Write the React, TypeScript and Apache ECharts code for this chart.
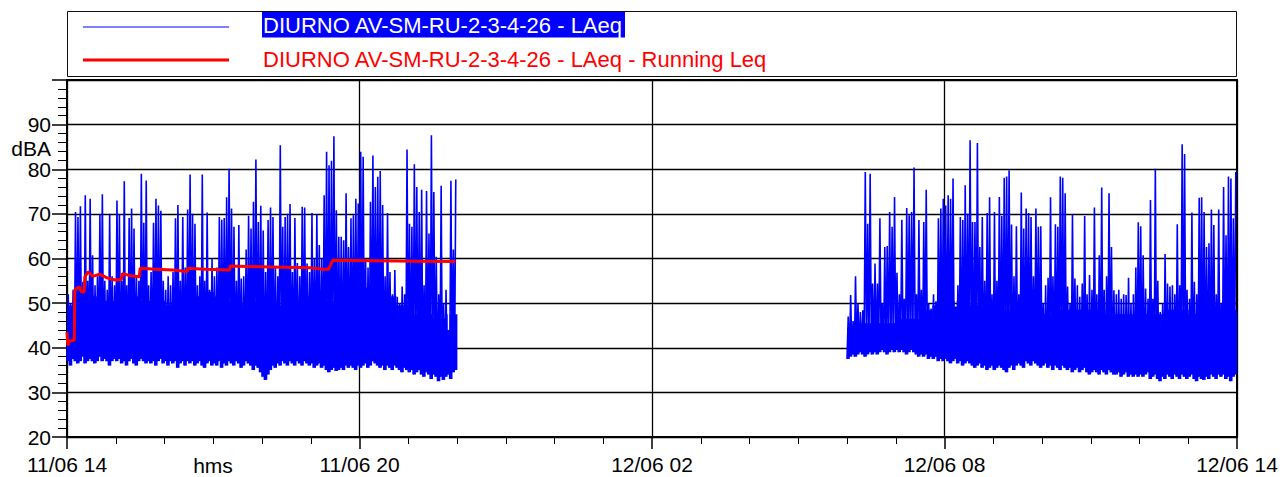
import React, { useEffect, useRef } from "react";
import * as echarts from "echarts";

// X axis: minutes elapsed since 11/06 14:00
const xTickLabels = ["11/06 14", "11/06 20", "12/06 02", "12/06 08", "12/06 14"];
const xAxisName = "hms";
const yAxisName = "dBA";
const seriesName = "DIURNO AV-SM-RU-2-3-4-26 - LAeq";
const runningName = "DIURNO AV-SM-RU-2-3-4-26 - LAeq - Running Leq";

// Blue series: min / max of LAeq in 3-minute windows
const windowMinutes = 3;
const seg1StartMin = 0; // 11/06 14:00
const seg2StartMin = 960; // 12/06 06:00

const seg1Hi = [
  52, 50, 53, 70.4, 69.3, 71.7, 54.8, 74.2, 55, 73.4,
  60.7, 54, 56, 69.9, 74.4, 55, 53, 70, 56, 54,
  73, 69.9, 55, 77.3, 54, 69.1, 71.2, 66.7, 56, 55,
  79, 68, 77.5, 54, 57, 68, 73.4, 71.9, 70.7, 55,
  53, 56, 54, 57, 69, 72, 55, 69.3, 58, 71,
  78.8, 70, 67.8, 54, 56, 78.8, 55, 70.3, 53, 60,
  56, 58, 69.3, 68.7, 69.1, 73.7, 80.1, 71.2, 67.1, 55,
  67.5, 55.5, 56, 62, 69.6, 66.7, 72.7, 82.2, 68.2, 71.8,
  66.3, 57, 68.6, 71.4, 69.3, 58, 56, 85.4, 67.1, 69.3,
  70, 72.2, 57, 69.1, 59, 56, 71.6, 71.4, 58.9, 57,
  70.2, 60, 69.9, 63, 60, 74.2, 83.9, 80.9, 81.9, 87.4,
  70.8, 64.9, 64.9, 64.1, 74.6, 62.6, 69, 69.7, 73.4, 72.3,
  83.9, 82.8, 60, 58, 72.7, 83.1, 76, 78.3, 79.6, 72,
  56, 70.2, 57, 52, 57.4, 51.4, 50, 53.7, 52, 84.4,
  67.8, 67.1, 81.1, 76, 70.4, 75.4, 54, 75.1, 65.6, 87.6,
  74.9, 60.4, 52, 76.3, 50, 53, 44, 77.4, 62, 77.7,
];
const seg1Lo = [
  37, 36, 37.5, 37, 36.5, 37, 38, 36.5, 37, 37.5,
  37, 36.5, 37, 38, 37, 37.5, 37, 36, 37, 37.5,
  37, 37.5, 36.5, 37, 36, 37, 37.5, 36.5, 36, 37,
  37.5, 37, 36.5, 37, 36.5, 37, 36, 37, 37.5, 36.5,
  37, 36, 37, 36.5, 37, 35.5, 36.5, 37, 36, 37,
  36.5, 37, 36, 36.5, 37, 36, 35.5, 36.5, 37, 36,
  36.5, 36, 37, 35.5, 36.5, 36, 37, 36.5, 36, 37,
  36.5, 35.5, 36, 37, 36.5, 36, 35, 36, 35.5, 34.5,
  33.5, 32.8, 34, 35, 36, 35.5, 36.5, 36, 37, 36.5,
  36, 37, 36.5, 36, 37, 36.5, 36, 37, 36.5, 36,
  36.5, 35.5, 36, 36.5, 35.5, 36, 35, 34.5, 35, 35.5,
  34.8, 35, 35.5, 35, 36, 35.5, 36, 35.5, 35, 36,
  35.5, 36, 36.5, 35.5, 36, 37, 36.5, 36, 35.5, 36,
  35, 36, 35.5, 35, 36, 35.5, 35, 34.5, 35.5, 35,
  34.5, 35, 34, 34.5, 35, 34, 33.5, 34.5, 34, 33,
  34, 33.5, 32.5, 33.5, 32.8, 33.5, 34, 33, 34.5, 35,
];
// Top of the dense (solid) part of the band, per 15-minute block
const seg1Core = [
  49.5, 51.5, 51.5, 50.5, 50.5, 51.5, 50.5, 50.5,
  49.5, 50.5, 51.5, 52.5, 51.5, 50.5, 49.5, 50.5,
  50.5, 49.5, 50.5, 51.5, 51.5, 50.5, 52.5, 53.5,
  53.5, 52.5, 51.5, 49.5, 47.5, 47.5, 46.5, 47.5,
];

const seg2Hi = [
  47, 51.8, 46, 56, 49.9, 48, 48.4, 79.4, 67.8, 79,
  54.4, 58.9, 54.4, 69, 50, 62.6, 62.8, 70.4, 67.1, 73.8,
  56.8, 52, 68.7, 51, 71.3, 69.7, 70.4, 80.4, 52, 68.6,
  53, 68.2, 75.4, 50, 48.8, 52, 50.4, 69, 71.2, 73.4,
  71.9, 74.2, 73.4, 77.9, 49.2, 54, 69.3, 68.6, 76.4, 70,
  86.5, 68.2, 68.2, 85.9, 62.6, 69.3, 55, 70.2, 73.7, 52,
  70.4, 55, 73.8, 69.5, 78.1, 78.4, 79.8, 67.6, 56, 67.2,
  52, 74.8, 66.7, 71.2, 70.2, 69.3, 56, 71.2, 67.1, 67.2,
  50, 54, 55.7, 73.7, 56, 67.7, 67.1, 78.4, 78.1, 74.6,
  53.7, 50, 69.9, 55.5, 54, 51.4, 54.4, 69.5, 52, 56.3,
  53, 71.4, 52, 60.7, 75.9, 53, 56, 74.6, 62.6, 52.9,
  52, 53, 51, 52, 51.8, 55.7, 50, 52, 58, 68.1,
  67.2, 60.7, 53.3, 51, 73.1, 51, 80.1, 55, 48, 50,
  61, 54.4, 53.7, 54, 52, 67.7, 54, 85.6, 83.4, 53,
  51, 70.3, 54.8, 52, 73.6, 73.7, 70.4, 62.6, 63.4, 71,
  67.5, 52, 71, 50, 76, 65.2, 78.4, 77.9, 69, 79.4,
];
const seg2Lo = [
  37.5, 38, 38.5, 38, 38.5, 39, 38.5, 38, 38.5, 39,
  38.5, 39, 38.5, 39, 39.5, 39, 38.5, 39, 39.5, 39,
  39.5, 39, 39.5, 39, 38.5, 39, 39.5, 39, 38.5, 38,
  38.5, 38, 38.5, 37.5, 38, 37.5, 38, 37, 37.5, 37,
  37.5, 37, 36.5, 37, 37.5, 36.5, 37, 36, 36.5, 37,
  36.5, 36, 35.5, 36, 36.5, 35.5, 36, 35, 35.5, 36,
  35, 35.5, 36, 35.5, 35, 34.5, 35.5, 36, 35, 36,
  36.5, 36, 35.5, 37, 36.5, 36, 37, 36.5, 36, 35.5,
  36, 36.5, 35.5, 36, 35, 36, 35.5, 35, 36, 35.5,
  35, 35.5, 34.5, 35, 35.5, 34.5, 35, 35.5, 34.5, 34,
  34.5, 35, 34.5, 34, 35, 34.5, 34, 35, 34.5, 34,
  34, 34.5, 33.5, 34, 34.5, 33.5, 34, 33.5, 34, 33.5,
  34, 33.5, 34, 34.5, 33, 33.5, 34, 33, 32.5, 33.5,
  33, 34, 33.5, 33, 34, 33.5, 33, 34, 33.5, 33,
  33.5, 34, 33, 32.5, 33.5, 33, 32.8, 33.5, 33, 34,
  33.5, 33, 34, 33.5, 34, 33, 33.5, 32.5, 33.5, 34,
];
const seg2Core = [
  44.5, 45.5, 45.5, 45.5, 46.5, 46.5, 48.5, 49.5,
  50.5, 50.5, 49.5, 49.5, 48.5, 48.5, 48.5, 48.5,
  47.5, 48.5, 48.5, 48.5, 48.5, 47.5, 47.5, 47.5,
  47.5, 47.5, 48.5, 48.5, 47.5, 48.5, 48.5, 48.5,
];
const windowsPerCoreBlock = 5;

// Running Leq: [minute, dBA]
const runningMinutes = [
  0, 1, 3, 9, 9.5, 12, 15, 18, 21, 22, 26, 32, 40, 50, 59, 67, 68, 80, 89, 90,
  110, 130, 148, 149, 170, 200, 201, 250, 300, 315, 322, 327, 380, 430, 478,
];
const runningValues = [
  43.5, 40.5, 41.5, 41.7, 52.9, 53.3, 53.7, 52.5, 52.5, 55.9, 57, 56, 56.5, 55.6, 55.2, 55.3, 56.6, 56.1, 55.9, 57.8,
  57.6, 57.4, 57.1, 57.8, 57.6, 57.4, 58.3, 58.1, 57.9, 57.6, 57.6, 59.6, 59.5, 59.4, 59.3,
];

function minMaxPoints(start: number, lo: number[], hi: number[]) {
  const out: [number, number][] = [];
  for (let i = 0; i < lo.length; i++) {
    out.push([start + i * windowMinutes, lo[i]]);
    out.push([start + i * windowMinutes + windowMinutes / 2, hi[i]]);
  }
  return out;
}

function coreBand(start: number, lo: number[], hi: number[], core: number[]) {
  const out: [number, number, number][] = [];
  for (let i = 0; i < lo.length; i++) {
    const top = Math.min(hi[i], core[Math.floor(i / windowsPerCoreBlock)]);
    out.push([start + i * windowMinutes, lo[i], top]);
  }
  return out;
}

const FONT = "'Liberation Sans', Arial, sans-serif";
const BLUE = "#0000ff";

function bandSeries(data: [number, number, number][]) {
  return {
    type: "custom",
    silent: true,
    z: 1,
    clip: true,
    data,
    encode: { x: 0, y: [1, 2] },
    renderItem: (_params: any, api: any) => {
      const t = api.value(0);
      const p0 = api.coord([t, api.value(1)]);
      const p1 = api.coord([t + windowMinutes, api.value(2)]);
      return {
        type: "rect",
        shape: {
          x: p0[0],
          y: p1[1],
          width: p1[0] - p0[0] + 0.4,
          height: p0[1] - p1[1],
        },
        style: { fill: BLUE },
      };
    },
  };
}

export default function App() {
  const ref = useRef<HTMLDivElement>(null);
  useEffect(() => {
    if (!ref.current) return;
    const chart = echarts.init(ref.current, null, { renderer: "svg" });
    const blueStyle = { color: BLUE, width: 1.6 };
    chart.setOption({
      animation: false,
      backgroundColor: "#ffffff",
      textStyle: { fontFamily: FONT },
      grid: {
        left: 67,
        right: 48,
        top: 80,
        bottom: 40,
        show: true,
        borderColor: "#000",
        borderWidth: 2,
      },
      xAxis: {
        type: "value",
        min: 0,
        max: 1440,
        interval: 360,
        axisLine: { show: true, onZero: false, lineStyle: { color: "#000", width: 2 } },
        axisTick: { show: true, length: 12, lineStyle: { color: "#000", width: 1.5 } },
        minorTick: { show: true, splitNumber: 6, length: 7, lineStyle: { color: "#000", width: 1 } },
        splitLine: { show: true, lineStyle: { color: "#000", width: 1.3 } },
        axisLabel: {
          formatter: (v: number) => xTickLabels[Math.round(v / 360)] ?? "",
          fontSize: 21,
          color: "#000",
          fontFamily: FONT,
          margin: 17,
          showMinLabel: true,
          showMaxLabel: true,
          hideOverlap: false,
        },
      },
      yAxis: {
        type: "value",
        min: 20,
        max: 100,
        interval: 10,
        axisLine: { show: true, onZero: false, lineStyle: { color: "#000", width: 2 } },
        axisTick: { show: true, length: 15, lineStyle: { color: "#000", width: 1.5 } },
        minorTick: { show: true, splitNumber: 5, length: 9, lineStyle: { color: "#000", width: 1 } },
        splitLine: { show: true, lineStyle: { color: "#000", width: 1.3 } },
        axisLabel: {
          formatter: (v: number) => (v === 100 ? "" : String(v)),
          fontSize: 21,
          color: "#000",
          fontFamily: FONT,
          margin: 16,
        },
      },
      series: [
        bandSeries(coreBand(seg1StartMin, seg1Lo, seg1Hi, seg1Core)),
        bandSeries(coreBand(seg2StartMin, seg2Lo, seg2Hi, seg2Core)),
        {
          name: seriesName,
          type: "line",
          data: minMaxPoints(seg1StartMin, seg1Lo, seg1Hi),
          showSymbol: false,
          lineStyle: blueStyle,
          itemStyle: { color: BLUE },
          z: 2,
        },
        {
          name: seriesName,
          type: "line",
          data: minMaxPoints(seg2StartMin, seg2Lo, seg2Hi),
          showSymbol: false,
          lineStyle: blueStyle,
          itemStyle: { color: BLUE },
          z: 2,
        },
        {
          name: runningName,
          type: "line",
          data: runningMinutes.map((m, i) => [m, runningValues[i]]),
          showSymbol: false,
          lineStyle: { color: "#ff0000", width: 3 },
          itemStyle: { color: "#ff0000" },
          z: 3,
        },
      ],
      graphic: [
        {
          type: "rect",
          shape: { x: 67.5, y: 11.5, width: 1169, height: 65 },
          style: { fill: "#fff", stroke: "#111", lineWidth: 1 },
          z: 10,
        },
        {
          type: "line",
          shape: { x1: 83, y1: 27, x2: 229, y2: 27 },
          style: { stroke: BLUE, lineWidth: 1.2 },
          z: 11,
        },
        {
          type: "rect",
          shape: { x: 262, y: 12, width: 363, height: 25.5 },
          style: { fill: BLUE },
          z: 11,
        },
        {
          type: "text",
          x: 263,
          y: 25,
          style: {
            text: seriesName,
            fill: "#fff",
            font: `22px ${FONT}`,
            verticalAlign: "middle",
          },
          z: 12,
        },
        {
          type: "line",
          shape: { x1: 83, y1: 60, x2: 229, y2: 60 },
          style: { stroke: "#ff0000", lineWidth: 3 },
          z: 11,
        },
        {
          type: "text",
          x: 263,
          y: 59,
          style: {
            text: runningName,
            fill: "#ff0000",
            font: `22px ${FONT}`,
            verticalAlign: "middle",
          },
          z: 12,
        },
        {
          type: "text",
          x: 51,
          y: 148,
          style: {
            text: yAxisName,
            fill: "#000",
            font: `21px ${FONT}`,
            align: "right",
            verticalAlign: "middle",
          },
          z: 12,
        },
        {
          type: "text",
          x: 213,
          y: 465,
          style: {
            text: xAxisName,
            fill: "#000",
            font: `21px ${FONT}`,
            align: "center",
            verticalAlign: "middle",
          },
          z: 12,
        },
      ],
    });
    return () => chart.dispose();
  }, []);
  return (
    <div
      ref={ref}
      style={{ position: "fixed", left: 0, top: 0, width: 1285, height: 477, background: "#fff" }}
    />
  );
}
